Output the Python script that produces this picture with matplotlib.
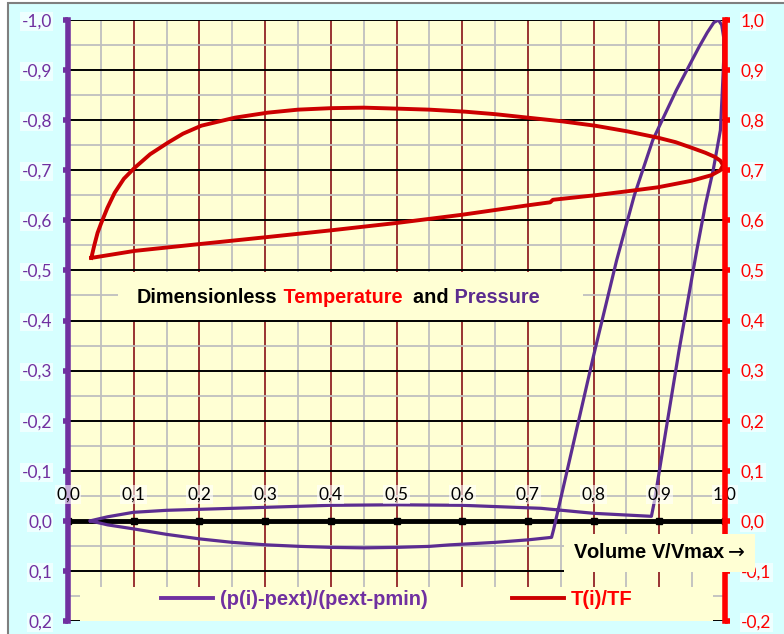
import matplotlib
matplotlib.use("Agg")
import matplotlib.pyplot as plt
import numpy as np
from matplotlib.patches import Rectangle
from matplotlib.lines import Line2D
from matplotlib.ticker import FuncFormatter, MultipleLocator

# temperature T(i)/TF  (right axis)
t_vol = [0.0355, 0.040, 0.045, 0.0507, 0.060, 0.071, 0.085, 0.1015, 0.125, 0.152, 0.175, 0.203,
         0.254, 0.304, 0.350, 0.401, 0.450, 0.502, 0.550, 0.604, 0.650, 0.700, 0.750, 0.802,
         0.850, 0.898, 0.925, 0.949, 0.970, 0.984, 0.993, 0.997, 0.993, 0.979, 0.949, 0.898,
         0.857, 0.802, 0.745, 0.738, 0.734, 0.700, 0.599, 0.502, 0.400, 0.299, 0.203, 0.1015, 0.0355]
t_val = [0.525, 0.550, 0.575, 0.595, 0.625, 0.655, 0.683, 0.705, 0.732, 0.755, 0.773, 0.789,
         0.805, 0.815, 0.821, 0.824, 0.825, 0.823, 0.821, 0.817, 0.812, 0.805, 0.798, 0.789,
         0.778, 0.765, 0.756, 0.745, 0.735, 0.727, 0.719, 0.710, 0.700, 0.690, 0.679, 0.666,
         0.659, 0.650, 0.642, 0.641, 0.636, 0.630, 0.611, 0.595, 0.580, 0.566, 0.553, 0.539, 0.525]

# pressure (p(i)-pext)/(pext-pmin)  (left axis, reversed)
p_vol = [0.034, 0.060, 0.0995, 0.150, 0.200, 0.250, 0.302, 0.353, 0.400, 0.450, 0.500, 0.550,
         0.581, 0.650, 0.700, 0.736, 0.739, 0.800, 0.835, 0.862, 0.890, 0.908, 0.926, 0.944,
         0.960, 0.973, 0.983, 0.990, 0.995, 0.998, 0.998, 0.996, 0.993, 0.982, 0.970, 0.957,
         0.930, 0.910, 0.893, 0.888, 0.800, 0.720, 0.600, 0.500, 0.400, 0.302, 0.200, 0.150,
         0.0995, 0.060, 0.034]
p_val = [0.0, 0.008, 0.016, 0.027, 0.036, 0.043, 0.048, 0.051, 0.053, 0.054, 0.053, 0.051,
         0.048, 0.043, 0.038, 0.033, 0.018, -0.33, -0.52, -0.65, -0.76, -0.81, -0.86, -0.905,
         -0.945, -0.975, -0.995, -1.0, -0.99, -0.965, -0.92, -0.86, -0.78, -0.70, -0.63, -0.54,
         -0.34, -0.18, -0.042, -0.009, -0.015, -0.025, -0.031, -0.032, -0.031, -0.027, -0.023,
         -0.021, -0.017, -0.008, 0.0]

x_ticks = [0.0, 0.1, 0.2, 0.3, 0.4, 0.5, 0.6, 0.7, 0.8, 0.9, 1.0]
left_ticks = [-1.0, -0.9, -0.8, -0.7, -0.6, -0.5, -0.4, -0.3, -0.2, -0.1, 0.0, 0.1, 0.2]
right_ticks = [-0.2, -0.1, 0.0, 0.1, 0.2, 0.3, 0.4, 0.5, 0.6, 0.7, 0.8, 0.9, 1.0]

title_parts = [("Dimensionless", "black"), (" Temperature", "#FF0000"),
               ("  and", "black"), (" Pressure", "#5B2C8F")]
p_label = "(p(i)-pext)/(pext-pmin)"
t_label = "T(i)/TF"
x_label = "Volume V/Vmax$\\rightarrow$"

PURPLE = "#7030A0"
PLINE = "#5C2D91"
RED = "#FF0000"
TLINE = "#CC0000"
CYAN = "#D6FFFF"
YELLOW = "#FFFFD4"


def comma(v, pos=None):
    if abs(v) < 1e-9:
        v = 0.0
    return f"{v:.1f}".replace(".", ",")


fig = plt.figure(figsize=(7.84, 6.34), dpi=100, facecolor="white")
fig.patches.append(Rectangle((8 / 784, -0.02), 1.0, 631 / 634 + 0.02, transform=fig.transFigure,
                             facecolor=CYAN, edgecolor="#7F7F7F", lw=1.5, zorder=-5))

ax = fig.add_axes([68 / 784, 13 / 634, 657 / 784, 601 / 634])
ax.set_facecolor(YELLOW)
ax.set_xlim(0, 1)
ax.set_ylim(0.2, -1.0)
ax.set_axisbelow(True)

ax.set_xticks(x_ticks)
ax.xaxis.set_minor_locator(MultipleLocator(0.05))
ax.set_yticks(left_ticks)
ax.yaxis.set_minor_locator(MultipleLocator(0.05))
ax.tick_params(axis="x", which="both", length=0, labelbottom=False)
ax.tick_params(axis="y", which="minor", length=0)
ax.tick_params(axis="y", which="major", colors=PURPLE, width=4, length=3.5, pad=8,
               labelsize=12.5)
ax.yaxis.set_major_formatter(FuncFormatter(comma))
for lab in ax.get_yticklabels():
    lab.set_family("Lato")
    lab.set_bbox(dict(facecolor="white", alpha=0.6, edgecolor="none", pad=1))

ax.grid(which="major", axis="x", color="#993333", lw=1.4)
ax.grid(which="minor", axis="x", color="#BFBFBF", lw=1.3)
ax.grid(which="major", axis="y", color="black", lw=1.4)
ax.grid(which="minor", axis="y", color="#BFBFBF", lw=1.3)

for s in ["top", "bottom", "right"]:
    ax.spines[s].set_visible(False)
ax.spines["left"].set_color(PURPLE)
ax.spines["left"].set_linewidth(4)

# boxes that cover the grid (title, legend)
ax.add_patch(Rectangle((0.076, 0.501), 0.708, 0.080, transform=ax.transAxes,
                       facecolor=YELLOW, edgecolor="none", zorder=1))
ax.add_patch(Rectangle((0.018, 0.0), 0.964, 0.057, transform=ax.transAxes,
                       facecolor=YELLOW, edgecolor="none", zorder=1))

# x axis through zero
ax.axhline(0, color="black", lw=3.5, zorder=1.6)
ax.plot(x_ticks, np.zeros(len(x_ticks)), "s", color="black", ms=4, zorder=1.7)
for xv in x_ticks:
    ax.annotate(comma(xv), (xv, 0), xytext=(0, 19), textcoords="offset points",
                ha="center", va="center", fontsize=12.5, family="Lato", zorder=4,
                bbox=dict(facecolor="white", alpha=0.6, edgecolor="none", pad=1))

ax.plot(p_vol, p_val, color=PLINE, lw=2.3, zorder=3, solid_joinstyle="round")

ax2 = ax.twinx()
ax2.set_ylim(-0.2, 1.0)
ax2.set_yticks(right_ticks)
ax2.yaxis.set_major_formatter(FuncFormatter(comma))
ax2.tick_params(axis="y", colors=RED, width=4, length=3.5, pad=8, labelsize=12.5)
for lab in ax2.get_yticklabels():
    lab.set_family("Lato")
    lab.set_bbox(dict(facecolor="white", alpha=0.6, edgecolor="none", pad=1))
for s in ["top", "bottom", "left"]:
    ax2.spines[s].set_visible(False)
ax2.spines["right"].set_color(RED)
ax2.spines["right"].set_linewidth(4)
ax2.plot(t_vol, t_val, color=TLINE, lw=2.8, solid_joinstyle="round")

# legend
handles = [Line2D([], [], color=PURPLE, lw=2.8), Line2D([], [], color=TLINE, lw=2.8)]
ax.legend(handles, [p_label, t_label], loc="center", bbox_to_anchor=(0.5, 0.035),
          ncol=2, frameon=False, handlelength=2.6, handletextpad=0.3, columnspacing=4.2,
          labelcolor=[PURPLE, RED], prop=dict(family="Liberation Sans", weight="bold", size=14.5))

# title in several colours
fig.canvas.draw()
r = fig.canvas.get_renderer()
xpos = 0.105
for s, c in title_parts:
    t = ax.text(xpos, 0.539, s, color=c, transform=ax.transAxes, va="center", ha="left",
                fontsize=14.3, fontweight="bold", family="Liberation Sans", zorder=4)
    bb = t.get_window_extent(r)
    xpos = ax.transAxes.inverted().transform((bb.x1, bb.y0))[0]

fig.text(573 / 784, (634 - 553) / 634, x_label, fontsize=14.5, fontweight="bold",
         family="Liberation Sans", va="center", ha="left", zorder=5,
         bbox=dict(boxstyle="square,pad=0.45", facecolor=YELLOW, edgecolor="none"))

fig.savefig("out.png", dpi=100)
